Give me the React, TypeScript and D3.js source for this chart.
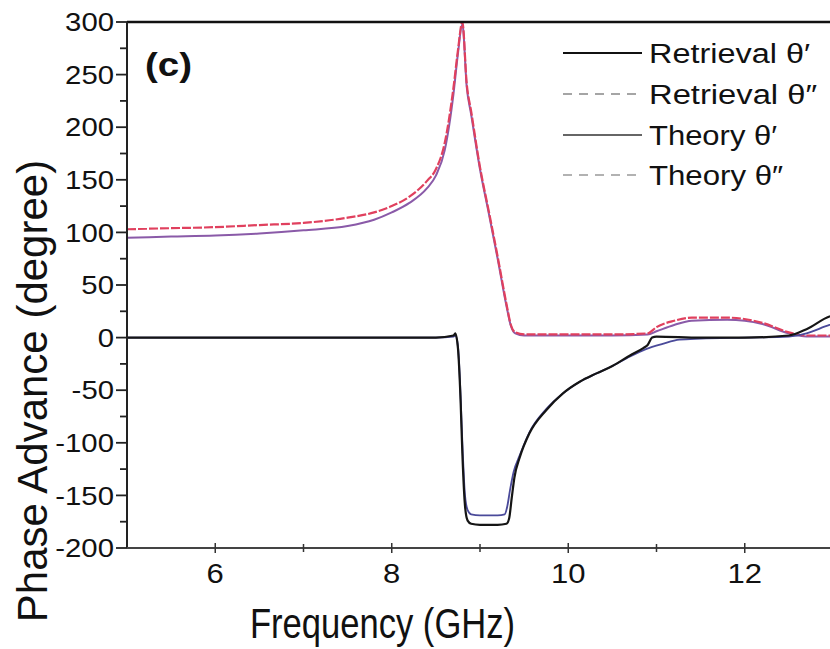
import React from "react";
import * as d3 from "d3";

// ---- data ----
const xTicks = [6, 8, 10, 12];
const xMinorTicks = [7, 9, 11];
const yTicks = [300, 250, 200, 150, 100, 50, 0, -50, -100, -150, -200];
const yMinorTicks = [275, 225, 175, 125, 75, 25, -25, -75, -125, -175];

const retDblF = [5, 5.5, 6, 6.5, 7, 7.5, 7.8, 8.0, 8.2, 8.4, 8.5, 8.6, 8.7, 8.75, 8.8, 8.85, 8.9, 9.0, 9.1, 9.2, 9.3, 9.35, 9.4, 9.5, 10, 10.5, 10.9, 11.0, 11.2, 11.4, 11.8, 12.2, 12.5, 12.7, 13];
const retDblV = [103, 104, 105, 107, 109, 114, 119, 125, 134, 149, 160, 185, 238, 273, 300, 241, 215, 162, 120, 77, 32, 12, 5, 3, 3, 3, 4, 10, 16, 19, 19, 14, 5, 2, 2];

const thDblF = [5, 5.5, 6, 6.5, 7, 7.5, 7.8, 8.0, 8.2, 8.4, 8.5, 8.6, 8.7, 8.75, 8.8, 8.85, 8.9, 9.0, 9.1, 9.2, 9.3, 9.35, 9.4, 9.5, 10, 10.5, 10.9, 11.0, 11.2, 11.4, 11.8, 12.2, 12.5, 12.7, 13];
const thDblV = [95, 96, 97, 99, 102, 106, 112, 119, 128, 142, 154, 178, 232, 270, 298, 238, 212, 160, 118, 75, 30, 11, 4, 2, 2, 2, 3, 6, 12, 16, 17, 13, 4, 1, 1];

const retPrF = [5, 8.5, 8.7, 8.72, 8.75, 8.78, 8.8, 8.83, 8.86, 8.9, 9.0, 9.2, 9.3, 9.33, 9.36, 9.39, 9.45, 9.56, 9.75, 9.94, 10.13, 10.32, 10.5, 10.7, 10.85, 10.9, 10.95, 11.0, 11.5, 12.0, 12.5, 12.7, 12.96, 13];
const retPrV = [0, 0, 2, 4, -10, -60, -110, -160, -174, -177, -178, -178, -177, -172, -152, -133, -114, -91, -69, -53, -42, -34, -27, -17, -10, -7, 0, 1, 0, 0, 2, 8, 20, 21];

const thPrF = [5, 8.5, 8.7, 8.72, 8.75, 8.78, 8.8, 8.83, 8.86, 8.9, 9.0, 9.2, 9.28, 9.31, 9.34, 9.38, 9.45, 9.56, 9.75, 9.94, 10.13, 10.32, 10.5, 10.7, 10.88, 11.07, 11.26, 11.5, 12.0, 12.5, 12.7, 12.96, 13];
const thPrV = [0, 0, 1, 2, -8, -55, -100, -150, -164, -168, -169, -169, -168, -160, -145, -128, -112, -90, -68, -53, -42, -34, -27, -18, -11, -6, -2, -1, 0, 1, 4, 12, 13];

const legendLabels = ["Retrieval \u03B8\u2032", "Retrieval \u03B8\u2033", "Theory \u03B8\u2032", "Theory \u03B8\u2033"];
const legendWidths = [161, 168, 128, 134];

const FONT = "'Liberation Sans', Arial, sans-serif";

function tickWidth(s: string, fs: number, k: number) {
  let w = 0;
  for (const ch of s) w += ch === "-" ? 0.333 : 0.556;
  return w * fs * k;
}

export default function App() {
  const W = 830, H = 649;
  const left = 127, right = 833, top = 22, bottom = 548;
  const x = d3.scaleLinear().domain([5, 13]).range([left, right]);
  const y = d3.scaleLinear().domain([-200, 300]).range([bottom, top]);

  const mk = (fs: number[], vs: number[]) =>
    d3.line<number>().x((_, i) => x(fs[i])).y((v) => y(v)).curve(d3.curveMonotoneX)(vs) || "";

  const series = [
    { d: mk(thDblF, thDblV), stroke: "#8a5aa8", w: 2, dash: undefined },
    { d: mk(retDblF, retDblV), stroke: "#e0405e", w: 2.2, dash: "9,2" },
    { d: mk(thPrF, thPrV), stroke: "#4a4a9a", w: 1.8, dash: undefined },
    { d: mk(retPrF, retPrV), stroke: "#151515", w: 2.2, dash: undefined },
  ];

  const legendStyles = [
    { stroke: "#111", w: 2.2, dash: undefined },
    { stroke: "#888", w: 1.5, dash: "9,7" },
    { stroke: "#333", w: 1.5, dash: undefined },
    { stroke: "#999", w: 1.5, dash: "9,7" },
  ];

  const tfs = 25.5;

  return (
    <svg width={W} height={H} style={{ position: "absolute", left: 0, top: 0, background: "#fff" }} fontFamily={FONT}>
      <defs>
        <clipPath id="plotclip">
          <rect x={left} y={top - 1} width={right - left} height={bottom - top + 2} />
        </clipPath>
      </defs>

      {/* curves */}
      <g clipPath="url(#plotclip)">
        {series.map((s, i) => (
          <path key={i} d={s.d} fill="none" stroke={s.stroke} strokeWidth={s.w} strokeDasharray={s.dash} />
        ))}
      </g>

      {/* frame */}
      <line x1={left} x2={W} y1={top} y2={top} stroke="#111" strokeWidth={2.5} />
      <line x1={left} x2={left} y1={top} y2={bottom} stroke="#222" strokeWidth={2} />
      <line x1={left} x2={W} y1={bottom} y2={bottom} stroke="#444" strokeWidth={2} />

      {/* y ticks */}
      {yTicks.map((t) => {
        const s = String(t);
        return (
          <g key={"y" + t}>
            <line x1={left - 11} x2={left} y1={y(t)} y2={y(t)} stroke="#222" strokeWidth={1.8} />
            <text x={left - 13} y={y(t)} dy="0.36em" textAnchor="end" fontSize={tfs} fill="#111"
              textLength={tickWidth(s, tfs, 1.15)} lengthAdjust="spacingAndGlyphs">
              {s}
            </text>
          </g>
        );
      })}
      {yMinorTicks.map((t) => (
        <line key={"ym" + t} x1={left - 7} x2={left} y1={y(t)} y2={y(t)} stroke="#222" strokeWidth={1.8} />
      ))}

      {/* x ticks */}
      {xTicks.map((t) => {
        const s = String(t);
        return (
          <g key={"x" + t}>
            <line x1={x(t)} x2={x(t)} y1={bottom - 5} y2={bottom + 5} stroke="#333" strokeWidth={1.5} />
            <text x={x(t)} y={bottom + 35} textAnchor="middle" fontSize={27} fill="#111"
              textLength={tickWidth(s, 27, 1.15)} lengthAdjust="spacingAndGlyphs">
              {s}
            </text>
          </g>
        );
      })}
      {xMinorTicks.map((t) => (
        <line key={"xm" + t} x1={x(t)} x2={x(t)} y1={bottom - 4} y2={bottom + 4} stroke="#333" strokeWidth={1.5} />
      ))}

      {/* axis titles */}
      <text x={250} y={638} fontSize={42} fill="#111" textLength={265} lengthAdjust="spacingAndGlyphs">
        Frequency (GHz)
      </text>
      <text transform={`translate(47,${391}) rotate(-90)`} textAnchor="middle" fontSize={42} fill="#111">
        Phase Advance (degree)
      </text>

      {/* panel label */}
      <text x={145} y={76} fontSize={33} fontWeight="bold" fill="#111" textLength={47} lengthAdjust="spacingAndGlyphs">
        (c)
      </text>

      {/* legend */}
      {legendLabels.map((lab, i) => {
        const ly = [53, 94, 135, 175][i];
        const st = legendStyles[i];
        return (
          <g key={lab}>
            <line x1={563} x2={642} y1={ly} y2={ly} stroke={st.stroke} strokeWidth={st.w} strokeDasharray={st.dash} />
            <text x={649} y={ly + 10} fontSize={27} fill="#111" textLength={legendWidths[i]} lengthAdjust="spacingAndGlyphs">
              {lab}
            </text>
          </g>
        );
      })}
    </svg>
  );
}
